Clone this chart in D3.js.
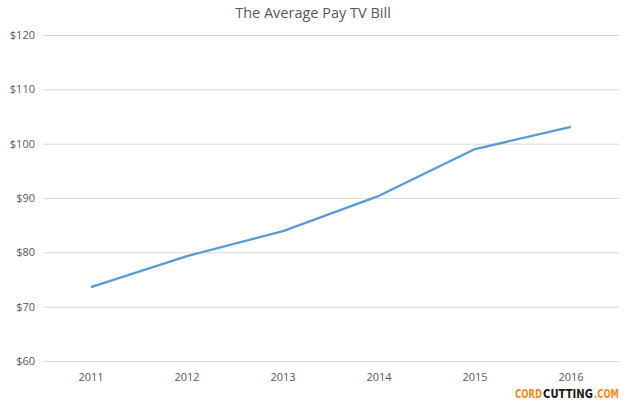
<!DOCTYPE html>
<html><head><meta charset="utf-8">
<script src="https://cdn.jsdelivr.net/npm/d3@7"></script>
<style>body{margin:0;background:#fff}svg{display:block}</style>
</head><body>
<script>
const years = ["2011","2012","2013","2014","2015","2016"];
const bill = [73.6, 79.3, 83.9, 90.4, 99.0, 103.1];
const yTicks = [60,70,80,90,100,110,120];

const W=625,H=406;
const svg=d3.select("body").append("svg").attr("width",W).attr("height",H);
const x=d3.scaleBand().domain(years).range([43,619]);
const y=d3.scaleLinear().domain([60,120]).range([361,35]);
const font="'Open Sans', sans-serif";

svg.append("text").attr("x",313).attr("y",18).attr("text-anchor","middle")
 .attr("font-family",font).attr("font-size",14.5).attr("fill","#595959")
 .text("The Average Pay TV Bill");

const ya=svg.append("g").attr("transform","translate(43,0)")
 .call(d3.axisLeft(y).tickValues(yTicks).tickSize(-576).tickPadding(8).tickFormat(d=>"$"+d));
ya.select(".domain").remove();
ya.selectAll("line").attr("stroke","#d9d9d9").attr("stroke-width",1);
ya.selectAll("text").attr("font-family",font).attr("font-size",11).attr("fill","#595959");

const xa=svg.append("g").attr("transform","translate(0,361)")
 .call(d3.axisBottom(x).tickSize(0).tickPadding(12));
xa.select(".domain").remove();
xa.selectAll("text").attr("font-family",font).attr("font-size",11).attr("fill","#595959");

svg.append("path").datum(bill)
 .attr("d",d3.line().x((d,i)=>x(years[i])+x.bandwidth()/2).y(d=>y(d)))
 .attr("fill","none").attr("stroke","#5B9BD5").attr("stroke-width",2.25).attr("stroke-linejoin","round");

const logoParts=[["CORD","#f7891f",515,27],["CUTTING","#1a1a1a",543,50],[".COM","#f7891f",594,25]];
svg.selectAll("text.logo").data(logoParts).enter().append("text").attr("class","logo")
 .attr("fill",d=>d[1])
 .attr("font-family","'DejaVu Sans Condensed', 'DejaVu Sans', sans-serif").attr("font-weight","bold")
 .attr("font-size",13)
 .text(d=>d[0])
 .attr("transform",function(d){
   const w=this.getComputedTextLength();
   return `translate(${d[2]},398) scale(${d[3]/w},1)`;
 });
</script>
</body></html>
